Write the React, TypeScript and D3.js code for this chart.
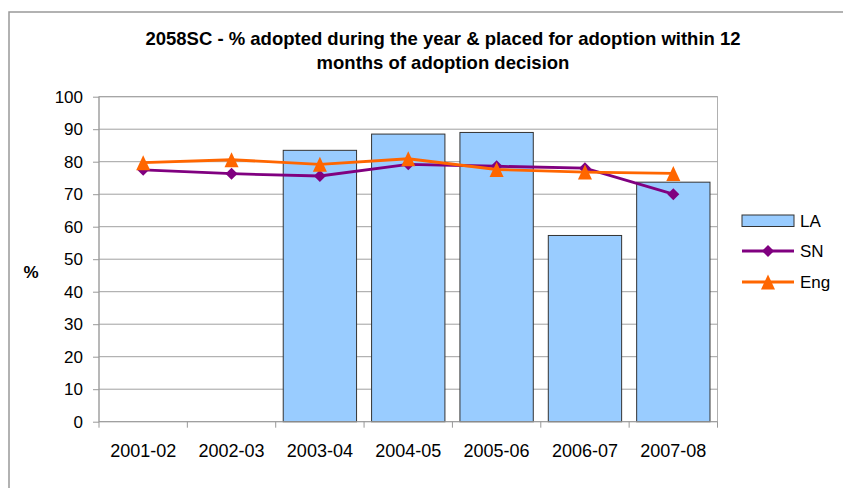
import { useEffect, useRef } from 'react';
import * as d3 from 'd3';

// chart data
const years = ['2001-02', '2002-03', '2003-04', '2004-05', '2005-06', '2006-07', '2007-08'];
const laValues = [null, null, 83.5, 88.5, 89.0, 57.3, 73.7];
const snValues = [77.5, 76.3, 75.6, 79.2, 78.6, 78.0, 70.0];
const engValues = [79.7, 80.6, 79.2, 80.9, 77.6, 76.8, 76.4];
const yTicks = [0, 10, 20, 30, 40, 50, 60, 70, 80, 90, 100];

const W = 843;
const H = 488;

// Excel-style triangle, a bit taller than equilateral, centred on its box
const tallTriangle = {
  draw(ctx, size) {
    const w = Math.sqrt(size * 2 / 1.07);
    const h = w * 1.07;
    ctx.moveTo(0, -h / 2);
    ctx.lineTo(w / 2, h / 2);
    ctx.lineTo(-w / 2, h / 2);
    ctx.closePath();
  }
};

const App = () => {
  const svgRef = useRef(null);

  useEffect(() => {
    const svg = d3.select(svgRef.current);
    svg.selectAll('*').remove();

    const left = 99, right = 717.5, top = 96.7, bottom = 421.7;
    const font = 'Arial, "Liberation Sans", sans-serif';

    // outer chart border
    svg.append('rect')
      .attr('x', 9).attr('y', 12)
      .attr('width', W).attr('height', H)
      .attr('fill', '#fff')
      .attr('stroke', '#999').attr('stroke-width', 1.5);

    // title
    const title = svg.append('text')
      .attr('text-anchor', 'middle')
      .attr('font-family', font)
      .attr('font-weight', 'bold')
      .attr('font-size', 18.5)
      .attr('fill', '#000');
    title.append('tspan').attr('x', 443).attr('y', 45)
      .text('2058SC - % adopted during the year & placed for adoption within 12');
    title.append('tspan').attr('x', 443).attr('y', 69)
      .text('months of adoption decision');

    const x = d3.scaleBand().domain(years).range([left, right]).paddingInner(0.17).paddingOuter(0.085);
    const xc = d3.scaleBand().domain(years).range([left, right]);
    const y = d3.scaleLinear().domain([0, 100]).range([bottom, top]);

    const g = svg.append('g');

    // plot area frame
    g.append('rect')
      .attr('x', left).attr('y', top)
      .attr('width', right - left).attr('height', bottom - top)
      .attr('fill', '#fff').attr('stroke', '#b0b0b0').attr('stroke-width', 1);

    // gridlines
    g.selectAll('.grid').data(yTicks.slice(1)).enter().append('line')
      .attr('x1', left).attr('x2', right)
      .attr('y1', d => y(d)).attr('y2', d => y(d))
      .attr('stroke', '#a0a0a0').attr('stroke-width', 1);

    // bars
    const laData = years.map((yr, i) => ({ yr, v: laValues[i] })).filter(d => d.v != null);
    g.selectAll('.bar').data(laData).enter().append('rect')
      .attr('x', d => x(d.yr))
      .attr('y', d => y(d.v))
      .attr('width', x.bandwidth())
      .attr('height', d => y(0) - y(d.v))
      .attr('fill', '#99ccff')
      .attr('stroke', '#333').attr('stroke-width', 1);

    // y axis
    const yAxis = g.append('g')
      .attr('transform', `translate(${left},0)`)
      .call(d3.axisLeft(y).tickValues(yTicks).tickSize(6).tickPadding(10));
    yAxis.select('.domain').attr('stroke', '#999').attr('d', `M0,${top}V${bottom}`);
    yAxis.selectAll('.tick line').attr('stroke', '#999');
    yAxis.selectAll('.tick text')
      .attr('font-family', font).attr('font-size', 17).attr('fill', '#000');

    // x axis
    const xAxis = g.append('g')
      .attr('transform', `translate(0,${bottom})`)
      .call(d3.axisBottom(xc).tickSize(0).tickPadding(23));
    xAxis.select('.domain').attr('stroke', '#999').attr('d', `M${left},0H${right}`);
    xAxis.selectAll('.tick text')
      .attr('font-family', font).attr('font-size', 18).attr('fill', '#000');
    g.selectAll('.xtick').data(years.concat(['end'])).enter().append('line')
      .attr('x1', (d, i) => left + i * xc.step())
      .attr('x2', (d, i) => left + i * xc.step())
      .attr('y1', bottom).attr('y2', bottom + 6)
      .attr('stroke', '#999');

    // y label
    svg.append('text')
      .attr('x', 31).attr('y', 278)
      .attr('text-anchor', 'middle')
      .attr('font-family', font).attr('font-weight', 'bold').attr('font-size', 17)
      .text('%');

    const cx = d => xc(d) + xc.bandwidth() / 2;
    const line = d3.line().x(d => cx(d.yr)).y(d => y(d.v));
    const snData = years.map((yr, i) => ({ yr, v: snValues[i] }));
    const engData = years.map((yr, i) => ({ yr, v: engValues[i] }));

    const diamond = d3.symbol().type(d3.symbolDiamond2).size(92);
    const triangle = d3.symbol().type(tallTriangle).size(105);

    g.append('path').datum(snData).attr('d', line)
      .attr('fill', 'none').attr('stroke', '#800080').attr('stroke-width', 2.8);
    g.selectAll('.sn').data(snData).enter().append('path')
      .attr('d', diamond)
      .attr('transform', d => `translate(${cx(d.yr)},${y(d.v)})`)
      .attr('fill', '#800080');

    g.append('path').datum(engData).attr('d', line)
      .attr('fill', 'none').attr('stroke', '#ff6600').attr('stroke-width', 2.8);
    g.selectAll('.eng').data(engData).enter().append('path')
      .attr('d', triangle)
      .attr('transform', d => `translate(${cx(d.yr)},${y(d.v)})`)
      .attr('fill', '#ff6600');

    // legend
    const lg = svg.append('g');
    lg.append('rect').attr('x', 742).attr('y', 215).attr('width', 52).attr('height', 11.5)
      .attr('fill', '#99ccff').attr('stroke', '#333').attr('stroke-width', 1);
    lg.append('line').attr('x1', 742).attr('x2', 794).attr('y1', 251).attr('y2', 251)
      .attr('stroke', '#800080').attr('stroke-width', 2.8);
    lg.append('path').attr('d', diamond).attr('transform', 'translate(768,251)').attr('fill', '#800080');
    lg.append('line').attr('x1', 742).attr('x2', 794).attr('y1', 282).attr('y2', 282)
      .attr('stroke', '#ff6600').attr('stroke-width', 2.8);
    lg.append('path').attr('d', triangle).attr('transform', 'translate(768,282)').attr('fill', '#ff6600');
    [['LA', 221.5], ['SN', 251.5], ['Eng', 282]].forEach(([t, yy]) => {
      lg.append('text').attr('x', 800).attr('y', yy).attr('dy', '0.35em')
        .attr('font-family', font).attr('font-size', 17).text(t);
    });
  }, []);

  return (
    <div style={{ position: 'absolute', left: 0, top: 0 }}>
      <svg ref={svgRef} width={W} height={H} style={{ display: 'block' }}></svg>
    </div>
  );
};

export default App;
